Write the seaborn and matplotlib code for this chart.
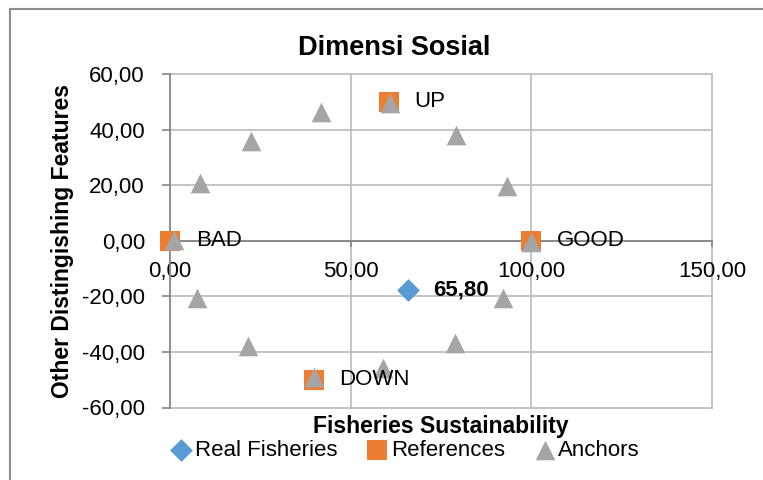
import matplotlib
matplotlib.use("Agg")
import matplotlib.pyplot as plt
from matplotlib.ticker import FuncFormatter
from matplotlib.patches import Rectangle
import seaborn as sns

# data
real_x = [65.80]
real_y = [-17.7]

ref_labels = ["BAD", "GOOD", "UP", "DOWN"]
ref_x = [0.0, 100.0, 60.6, 39.8]
ref_y = [0.0, 0.0, 50.0, -50.0]

anchor_x = [1.0, 8.2, 22.5, 41.8, 60.9, 79.2, 93.4, 100.0, 92.2, 78.8, 59.0, 39.9, 21.6, 7.4]
anchor_y = [0.3, 20.7, 36.0, 46.2, 49.5, 38.0, 19.8, -0.6, -20.7, -36.9, -45.9, -49.0, -37.9, -20.5]

x_ticks = [0, 50, 100, 150]
y_ticks = [-60, -40, -20, 0, 20, 40, 60]

sns.set_theme(style="white")
plt.rcParams['font.family'] = ['Liberation Sans', 'DejaVu Sans']
plt.rcParams['text.color'] = 'black'
plt.rcParams['xtick.labelcolor'] = 'black'
plt.rcParams['ytick.labelcolor'] = 'black'

grid_c = "#BFBFBF"
axis_c = "#868686"
fs = 16

fig = plt.figure(figsize=(7.63, 4.8), dpi=100)
ax = fig.add_axes([170/763, (480-407.5)/480, 542/763, 333.5/480])

for y in y_ticks:
    ax.axhline(y, color=grid_c, lw=1.3, zorder=0, clip_on=False)
for x in x_ticks[1:]:
    ax.axvline(x, color=grid_c, lw=1.3, zorder=0, clip_on=False)

sns.scatterplot(x=ref_x, y=ref_y, marker="s", s=190, color="#ED7D31",
                linewidth=0, label="References", zorder=3, clip_on=False, ax=ax)
sns.scatterplot(x=anchor_x, y=anchor_y, marker="^", s=200, color="#A5A5A5",
                linewidth=0, label="Anchors", zorder=4, clip_on=False, ax=ax)
sns.scatterplot(x=real_x, y=real_y, marker="D", s=135, color="#5B9BD5",
                linewidth=0, label="Real Fisheries", zorder=5, clip_on=False, ax=ax)

for lab, x, y in zip(ref_labels, ref_x, ref_y):
    ax.annotate(lab, (x, y), xytext=(18.5, 0), textcoords="offset points",
                ha="left", va="center", fontsize=fs, zorder=6)
ax.annotate(f"{real_x[0]:.2f}".replace(".", ","), (real_x[0], real_y[0]),
            xytext=(18.5, 0), textcoords="offset points", ha="left", va="center",
            fontsize=fs, fontweight="bold", zorder=6)

ax.set_xlim(0, 150)
ax.set_ylim(-60, 60)
ax.set_xticks(x_ticks)
ax.set_yticks(y_ticks)
fmt = FuncFormatter(lambda v, p: f"{v:.2f}".replace(".", ","))
ax.xaxis.set_major_formatter(fmt)
ax.yaxis.set_major_formatter(fmt)

for side in ["top", "right"]:
    ax.spines[side].set_visible(False)
ax.spines["left"].set_color(axis_c)
ax.spines["left"].set_linewidth(1.3)
ax.spines["bottom"].set_position(("data", 0))
ax.spines["bottom"].set_color(axis_c)
ax.spines["bottom"].set_linewidth(1.3)
ax.spines["bottom"].set_zorder(1)

ax.tick_params(axis="y", direction="out", length=6, width=1.2, color=axis_c,
               labelsize=fs, pad=12, left=True, labelcolor="black")
ax.tick_params(axis="x", direction="out", length=4.5, width=1.2, color=axis_c,
               labelsize=fs, pad=10, bottom=True, labelcolor="black")
ax.set_xlabel("")
ax.set_ylabel("")

leg = ax.get_legend()
if leg is not None:
    leg.remove()
handles, labels = ax.get_legend_handles_labels()
order = [labels.index(l) for l in ["Real Fisheries", "References", "Anchors"]]
fig.legend([handles[i] for i in order], [labels[i] for i in order],
           loc="center", bbox_to_anchor=(405/763, 1 - 450/480), ncol=3,
           frameon=False, fontsize=fs, handletextpad=0.1, columnspacing=1.3,
           handlelength=1.0, borderaxespad=0, labelcolor="black")

fig.text(394/763, 1 - 48/480, "Dimensi Sosial", ha="center", va="center",
         fontsize=19.5, fontweight="bold", color="black")
fig.text(441/763, 1 - 427/480, "Fisheries Sustainability", ha="center",
         va="center", fontsize=16.5, fontweight="bold", color="black")
fig.text(63/763, 1 - 241/480, "Other Distingishing Features", ha="center",
         va="center", rotation=90, fontsize=16.5, fontweight="bold", color="black")

fig.add_artist(Rectangle((10/763, -0.1), 1.0, 1.1 - 9/480, transform=fig.transFigure,
                         fill=False, edgecolor="#8C8C8C", lw=1.5))

fig.savefig("out.png", dpi=100, facecolor="white")
